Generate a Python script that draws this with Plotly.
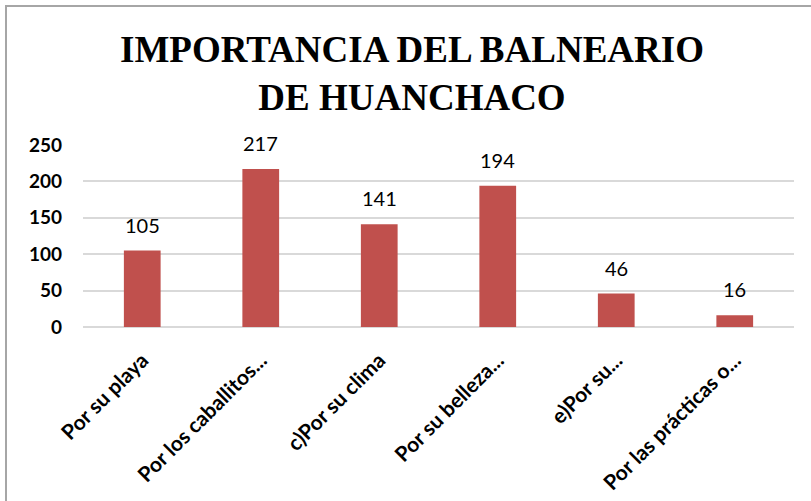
import plotly.graph_objects as go

categories = ["Por su playa", "Por los caballitos...", "c)Por su clima",
              "Por su belleza...", "e)Por su...", "Por las prácticas o..."]
values = [105, 217, 141, 194, 46, 16]
y_ticks = [0, 50, 100, 150, 200, 250]
title_text = "<b>IMPORTANCIA DEL BALNEARIO<br>DE HUANCHACO</b>"

W, H = 811, 501
L, R, T, B = 83, 17, 145, 174

fig = go.Figure()
fig.add_trace(go.Bar(
    x=categories, y=values,
    marker=dict(color="#C0504D", line=dict(width=0)),
    width=0.31,
    hoverinfo="skip",
))

for c, v in zip(categories, values):
    fig.add_annotation(x=c, y=v, text=str(v), showarrow=False,
                       yanchor="bottom", yshift=12,
                       font=dict(family="Lato", size=20, color="#000000"))

pw = W - L - R
ph = H - T - B
x0 = (6 - L) / pw
y1 = 1 + (T - 6) / ph
fig.add_shape(type="rect", xref="paper", yref="paper",
              x0=x0, x1=1 + 40 / pw, y0=-(B + 40) / ph, y1=y1,
              line=dict(color="#A6A6A6", width=2), fillcolor="rgba(0,0,0,0)")

fig.update_layout(
    width=W, height=H,
    margin=dict(l=L, r=R, t=T, b=B, autoexpand=False),
    paper_bgcolor="white", plot_bgcolor="white",
    showlegend=False,
    title=dict(text=title_text, x=412 / W, xanchor="center", xref="container",
               y=(H - 62) / H, yanchor="middle", automargin=False,
               font=dict(family="Liberation Serif", size=37, color="#000000"),
               ),
    xaxis=dict(tickangle=-45, showgrid=False, showline=False, ticks="", automargin=False,
               ticklabelstandoff=16,
               tickfont=dict(family="Lato", size=21, color="#000000", weight="bold")),
    yaxis=dict(range=[0, 250], tickvals=y_ticks, showgrid=True, gridcolor="#D9D9D9", gridwidth=1.5,
               zeroline=True, zerolinecolor="#D9D9D9", zerolinewidth=1.5, automargin=False,
               showline=False, ticks="", ticklabelstandoff=20,
               tickfont=dict(family="Lato", size=19, color="#000000", weight="bold")),
)

fig.write_html("out.html", config={"displayModeBar": False},
               post_script="document.body.style.margin='0';")
